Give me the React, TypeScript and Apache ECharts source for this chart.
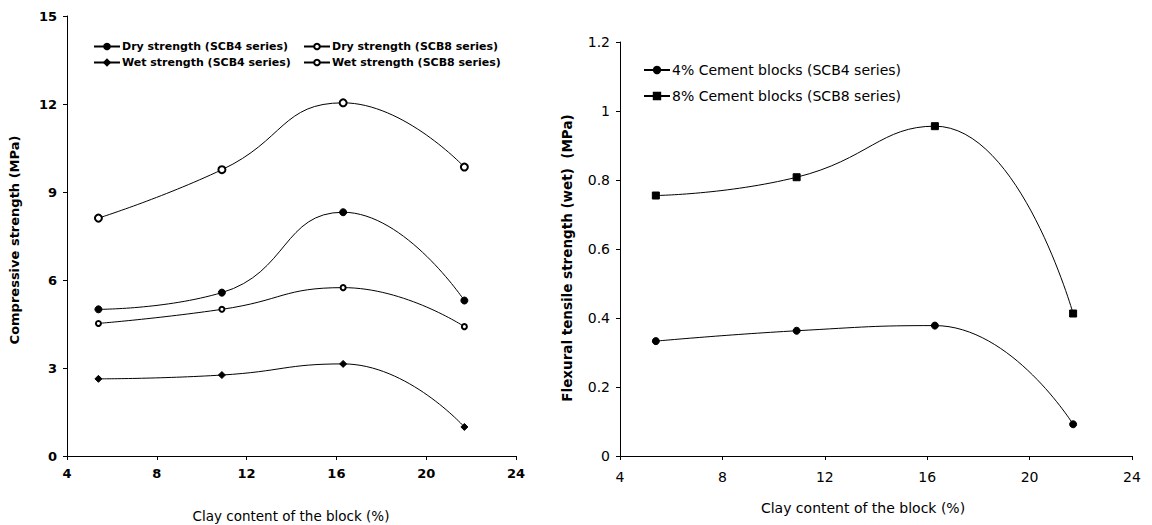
import React, { useEffect, useRef } from "react";
import * as echarts from "echarts";

const clayContent = [5.4, 10.9, 16.3, 21.7];
const dryScb4 = [5.0, 5.57, 8.31, 5.3];
const dryScb8 = [8.11, 9.76, 12.04, 9.85];
const wetScb4 = [2.63, 2.76, 3.14, 0.99];
const wetScb8 = [4.52, 5.0, 5.74, 4.41];
const flex4 = [0.333, 0.363, 0.378, 0.092];
const flex8 = [0.755, 0.808, 0.956, 0.413];

const pairs = (xs: number[], ys: number[]) => xs.map((x, i) => [x, ys[i]]);

const FONT = "'DejaVu Sans', sans-serif";

export default function App() {
  const ref = useRef<HTMLDivElement>(null);
  useEffect(() => {
    document.body.style.margin = "0";
    const chart = echarts.init(ref.current!, undefined, { renderer: "svg" });
    const axisCommon = {
      axisLine: { show: true, lineStyle: { color: "#000", width: 1 } },
      axisTick: { show: true, inside: false, length: 4, lineStyle: { color: "#000" } },
      splitLine: { show: false },
    };
    const lineSeries = (name: string, xi: number, data: number[][], symbol: string, size: number) => ({
      name,
      type: "line",
      xAxisIndex: xi,
      yAxisIndex: xi,
      data,
      smooth: 0.5,
      symbol,
      symbolSize: size,
      showSymbol: true,
      lineStyle: { color: "#000", width: 1 },
      itemStyle: { color: "#000", borderColor: "#000", borderWidth: 1 },
    });
    chart.setOption({
      animation: false,
      backgroundColor: "#fff",
      textStyle: { fontFamily: FONT },
      grid: [
        { left: 67, top: 16, width: 449, height: 440 },
        { left: 620, top: 42, width: 512, height: 414 },
      ],
      xAxis: [
        {
          gridIndex: 0, type: "value", min: 4, max: 24, interval: 4, ...axisCommon,
          axisLabel: { color: "#000", fontSize: 13, fontWeight: "bold", margin: 11, fontFamily: FONT },
        },
        {
          gridIndex: 1, type: "value", min: 4, max: 24, interval: 4, ...axisCommon,
          axisLabel: { color: "#000", fontSize: 14, margin: 14, fontFamily: FONT },
        },
      ],
      yAxis: [
        {
          gridIndex: 0, type: "value", min: 0, max: 15, interval: 3, ...axisCommon,
          axisLabel: { color: "#000", fontSize: 13, fontWeight: "bold", margin: 10, fontFamily: FONT },
        },
        {
          gridIndex: 1, type: "value", min: 0, max: 1.2, interval: 0.2, ...axisCommon,
          axisLabel: { color: "#000", fontSize: 14, margin: 10, fontFamily: FONT },
        },
      ],
      legend: [
        {
          left: 88, top: 36, orient: "vertical", itemGap: 5, itemWidth: 26, itemHeight: 7,
          textStyle: { color: "#000", fontSize: 11, fontWeight: "bold", fontFamily: FONT, padding: [0, 0, 0, -3] },
          data: ["Dry strength (SCB4 series)", "Wet strength (SCB4 series)"],
        },
        {
          left: 298, top: 36, orient: "vertical", itemGap: 5, itemWidth: 26, itemHeight: 7,
          textStyle: { color: "#000", fontSize: 11, fontWeight: "bold", fontFamily: FONT, padding: [0, 0, 0, -3] },
          data: ["Dry strength (SCB8 series)", "Wet strength (SCB8 series)"],
        },
        {
          left: 638, top: 58, orient: "vertical", itemGap: 12, itemWidth: 26, itemHeight: 8,
          textStyle: { color: "#000", fontSize: 14, fontFamily: FONT, padding: [0, 0, 0, -3] },
          data: ["4% Cement blocks (SCB4 series)", "8% Cement blocks (SCB8 series)"],
        },
      ],
      graphic: [
        {
          type: "text", x: 14, y: 240, rotation: Math.PI / 2,
          style: { text: "Compressive strength (MPa)", font: `bold 13px ${FONT}`, fill: "#000", textAlign: "center", textVerticalAlign: "middle" },
        },
        {
          type: "text", x: 291, y: 516,
          style: { text: "Clay content of the block (%)", font: `13.5px ${FONT}`, fill: "#000", textAlign: "center", textVerticalAlign: "middle" },
        },
        {
          type: "text", x: 567, y: 258, rotation: Math.PI / 2,
          style: { text: "Flexural tensile strength (wet)  (MPa)", font: `bold 13.5px ${FONT}`, fill: "#000", textAlign: "center", textVerticalAlign: "middle" },
        },
        {
          type: "text", x: 863, y: 508,
          style: { text: "Clay content of the block (%)", font: `14px ${FONT}`, fill: "#000", textAlign: "center", textVerticalAlign: "middle" },
        },
      ],
      series: [
        lineSeries("Dry strength (SCB4 series)", 0, pairs(clayContent, dryScb4), "circle", 7),
        lineSeries("Dry strength (SCB8 series)", 0, pairs(clayContent, dryScb8), "emptyCircle", 7),
        lineSeries("Wet strength (SCB4 series)", 0, pairs(clayContent, wetScb4), "diamond", 7),
        lineSeries("Wet strength (SCB8 series)", 0, pairs(clayContent, wetScb8), "emptyCircle", 5),
        lineSeries("4% Cement blocks (SCB4 series)", 1, pairs(clayContent, flex4), "circle", 7),
        lineSeries("8% Cement blocks (SCB8 series)", 1, pairs(clayContent, flex8), "rect", 7),
      ],
    });
    return () => chart.dispose();
  }, []);
  return <div ref={ref} style={{ width: 1152, height: 525 }} />;
}
